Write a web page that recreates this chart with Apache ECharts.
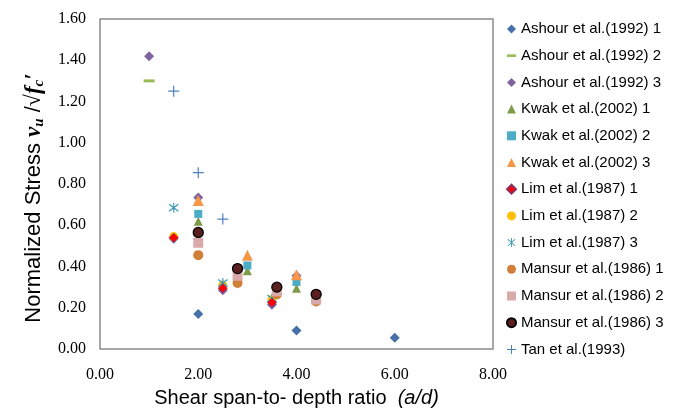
<!DOCTYPE html>
<html>
<head>
<meta charset="utf-8">
<script src="https://cdn.jsdelivr.net/npm/echarts@6/dist/echarts.min.js"></script>
<style>html,body{margin:0;padding:0;background:#fff;}#c{width:681px;height:409px;}</style>
</head>
<body>
<div id="c"></div>
<script>
// ---- data (x = a/d, y = normalized stress) ----
const ashour1 = [[2.0, 0.17], [4.0, 0.09], [6.0, 0.055]];
const ashour2 = [[1.0, 1.30]];
const ashour3 = [[1.0, 1.42], [1.5, 0.535], [2.0, 0.735], [2.5, 0.285], [3.5, 0.215], [4.0, 0.355]];
const kwak1 = [[2.0, 0.62], [3.0, 0.38], [4.0, 0.295]];
const kwak2 = [[2.0, 0.655], [3.0, 0.405], [4.0, 0.325]];
const kwak3 = [[2.0, 0.72], [3.0, 0.455], [4.0, 0.36]];
const lim1 = [[1.5, 0.54], [2.5, 0.295], [3.5, 0.225]];
const lim2 = [[1.5, 0.545], [2.5, 0.31], [3.5, 0.24]];
const lim3 = [[1.5, 0.685], [2.5, 0.32], [3.5, 0.245]];
const mansur1 = [[2.0, 0.455], [2.8, 0.32], [3.6, 0.265], [4.4, 0.23]];
const mansur2 = [[2.0, 0.515], [2.8, 0.355], [3.6, 0.28], [4.4, 0.24]];
const mansur3 = [[2.0, 0.565], [2.8, 0.39], [3.6, 0.30], [4.4, 0.265]];
const tan = [[1.5, 1.25], [2.0, 0.855], [2.5, 0.63]];
const seriesNames = ['Ashour et al.(1992) 1', 'Ashour et al.(1992) 2', 'Ashour et al.(1992) 3',
  'Kwak et al.(2002) 1', 'Kwak et al.(2002) 2', 'Kwak et al.(2002) 3',
  'Lim et al.(1987) 1', 'Lim et al.(1987) 2', 'Lim et al.(1987) 3',
  'Mansur et al.(1986) 1', 'Mansur et al.(1986) 2', 'Mansur et al.(1986) 3', 'Tan et al.(1993)'];
const seriesData = [ashour1, ashour2, ashour3, kwak1, kwak2, kwak3, lim1, lim2, lim3, mansur1, mansur2, mansur3, tan];

// ---- styles ----
const DASH = 'path://M0,0H10V3H0Z';
const PLUS = 'path://M4.45,0H5.55V4.45H10V5.55H5.55V10H4.45V5.55H0V4.45H4.45Z';
const STAR = 'path://M4.5,0H5.5V10H4.5Z M1.36,1.09L9.36,8.09L8.64,8.91L0.64,1.91Z M9.36,1.91L1.36,8.91L0.64,8.09L8.64,1.09Z';
const styles = [
  {symbol: 'diamond', size: 10, color: '#4570A8', z: 2},
  {symbol: DASH, size: [11, 3], color: '#9BBB59', z: 3},
  {symbol: 'diamond', size: 10, color: '#8064A2', z: 4},
  {symbol: 'triangle', size: 9, color: '#7F9A48', z: 5},
  {symbol: 'rect', size: 8, color: '#4BACC6', z: 6},
  {symbol: 'triangle', size: 11, color: '#F79646', z: 7},
  {symbol: 'diamond', size: 9, color: '#FF0000', border: '#8A3060', bw: 0.8, z: 10},
  {symbol: 'circle', size: 9, color: '#FFC000', z: 8},
  {symbol: STAR, size: 10, color: '#3D9BB5', z: 9},
  {symbol: 'circle', size: 10, color: '#D07F38', z: 11},
  {symbol: 'rect', size: 10, color: '#DAA9A9', z: 12},
  {symbol: 'circle', size: 10, color: '#5C1F1F', border: '#000', bw: 1.3, z: 13},
  {symbol: PLUS, size: 11, color: '#4F81BD', z: 14}
];

const series = seriesNames.map((n, i) => ({
  name: n,
  type: 'scatter',
  data: seriesData[i],
  symbol: styles[i].symbol,
  symbolSize: styles[i].size,
  itemStyle: {color: styles[i].color, borderColor: styles[i].border || styles[i].color, borderWidth: styles[i].bw || 0, opacity: 1},
  emphasis: {disabled: true},
  z: styles[i].z
}));

const chart = echarts.init(document.getElementById('c'), null, {renderer: 'canvas'});
chart.setOption({
  animation: false,
  backgroundColor: '#fff',
  grid: {left: 100, top: 19, width: 393, height: 330, containLabel: false, outerBoundsMode: 'none',
    show: true, borderColor: '#8a8a8a', borderWidth: 1.5, backgroundColor: 'transparent'},
  legend: {
    orient: 'vertical', left: 501, top: 16,
    itemWidth: 9, itemHeight: 9, itemGap: 10.7,
    textStyle: {fontFamily: 'Liberation Sans', fontSize: 15, color: '#000', lineHeight: 16},
    data: seriesNames
  },
  xAxis: {
    type: 'value', min: 0, max: 8, interval: 2,
    axisLine: {show: false}, axisTick: {show: false}, splitLine: {show: false},
    axisLabel: {formatter: v => v.toFixed(2), fontFamily: 'Liberation Serif', fontSize: 16, color: '#000', margin: 18},
    name: '{n|Shear span-to- depth ratio  }{i|(a/d)}',
    nameLocation: 'middle', nameGap: 38,
    nameTextStyle: {rich: {
      n: {fontFamily: 'Liberation Sans', fontSize: 20, color: '#000', lineHeight: 22},
      i: {fontFamily: 'Liberation Sans', fontSize: 20, fontStyle: 'italic', color: '#000', lineHeight: 22}
    }}
  },
  yAxis: {
    type: 'value', min: 0, max: 1.6, interval: 0.2,
    axisLine: {show: false}, axisTick: {show: false}, splitLine: {show: false},
    axisLabel: {formatter: v => v.toFixed(2), fontFamily: 'Liberation Serif', fontSize: 16, color: '#000', margin: 14},
    name: '{n|Normalized Stress }{v|v}{s|u}{n| /}{r|√}{v|f}{s|c}{e|′}',
    nameLocation: 'middle', nameGap: 46,
    nameTextStyle: {rich: {
      n: {fontFamily: 'Liberation Sans', fontSize: 22, color: '#000', lineHeight: 26, verticalAlign: 'middle'},
      r: {fontFamily: 'Liberation Serif', fontSize: 22, color: '#000', lineHeight: 26, verticalAlign: 'middle'},
      v: {fontFamily: 'Liberation Serif', fontSize: 23, fontStyle: 'italic', fontWeight: 'bold', color: '#000', lineHeight: 26, verticalAlign: 'middle'},
      e: {fontFamily: 'Liberation Serif', fontSize: 23, fontStyle: 'italic', fontWeight: 'bold', color: '#000', lineHeight: 26, verticalAlign: 'middle', padding: [0, 28, 0, 0]},
      s: {fontFamily: 'Liberation Serif', fontSize: 15, fontStyle: 'italic', fontWeight: 'bold', color: '#000', lineHeight: 15, verticalAlign: 'bottom'}
    }}
  },
  series: series
});
</script>
</body>
</html>
